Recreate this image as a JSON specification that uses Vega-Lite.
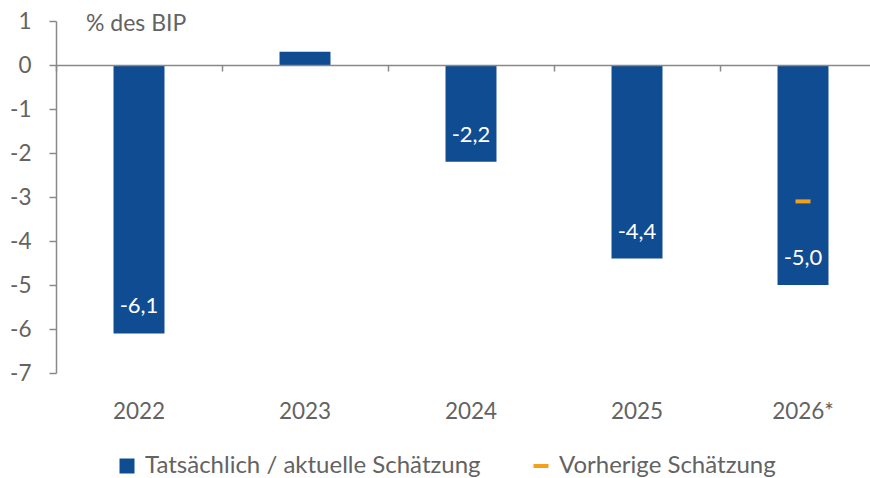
{
  "$schema": "https://vega.github.io/schema/vega-lite/v6.json",
  "width": 814,
  "height": 352,
  "autosize": {"type": "none"},
  "padding": {"left": 56, "top": 21, "right": 0, "bottom": 105},
  "background": "white",
  "config": {"view": {"stroke": null}, "font": "Lato"},
  "title": {"text": "% des BIP", "anchor": "start", "frame": "group", "dx": 30, "offset": -44, "fontSize": 23, "fontWeight": "normal", "color": "#636363", "baseline": "alphabetic"},
  "datasets": {
    "actual": [
      {"year": "2022", "value": -6.1, "label": "-6,1", "series": "Tatsächlich / aktuelle Schätzung"},
      {"year": "2023", "value": 0.3, "label": "", "series": "Tatsächlich / aktuelle Schätzung"},
      {"year": "2024", "value": -2.2, "label": "-2,2", "series": "Tatsächlich / aktuelle Schätzung"},
      {"year": "2025", "value": -4.4, "label": "-4,4", "series": "Tatsächlich / aktuelle Schätzung"},
      {"year": "2026*", "value": -5.0, "label": "-5,0", "series": "Tatsächlich / aktuelle Schätzung"}
    ],
    "previous": [
      {"year": "2026*", "value": -3.1, "series": "Vorherige Schätzung"}
    ]
  },
  "layer": [
    {
      "data": {"name": "actual"},
      "mark": {"type": "bar", "width": {"band": 0.307}},
      "encoding": {
        "x": {"field": "year", "type": "nominal", "sort": null,
          "scale": {"range": [0, 830], "paddingInner": 0, "paddingOuter": 0},
          "axis": {"orient": "bottom", "domain": false, "ticks": false, "labelPadding": 27, "labelFontSize": 22.5, "labelColor": "#636363", "labelAngle": 0, "title": null}},
        "y": {"field": "value", "type": "quantitative",
          "scale": {"domain": [-7, 1], "nice": false, "zero": false},
          "axis": {"values": [-7, -6, -5, -4, -3, -2, -1, 0, 1], "grid": false, "domainColor": "#898989", "tickColor": "#898989", "tickSize": 7, "labelPadding": 18, "labelFontSize": 22.5, "labelColor": "#636363", "title": null, "domainWidth": 1.5, "tickWidth": 1.5, "labelExpr": "'' + datum.value"}},
        "color": {"field": "series", "type": "nominal",
          "scale": {"domain": ["Tatsächlich / aktuelle Schätzung", "Vorherige Schätzung"], "range": ["#104C91", "#F5A01A"]},
          "legend": {"orient": "none", "legendX": 59, "legendY": 433, "direction": "horizontal", "title": null, "labelFontSize": 24, "labelColor": "#636363", "labelLimit": 0, "symbolSize": 225, "symbolType": "square", "symbolStrokeWidth": 0, "symbolOpacity": 1, "columnPadding": 48, "labelOffset": 6,
            "encode": {"symbols": {"update": {"shape": {"signal": "datum.value === 'Vorherige Schätzung' ? 'M-1,-0.27H1V0.27H-1Z' : 'square'"}}}}}}
      }
    },
    {
      "data": {"name": "actual"},
      "transform": [{"filter": "datum.label != ''"}],
      "mark": {"type": "text", "color": "white", "fontSize": 22, "baseline": "middle", "dy": -27},
      "encoding": {
        "x": {"field": "year", "type": "nominal", "sort": null, "axis": null},
        "y": {"field": "value", "type": "quantitative", "axis": null},
        "text": {"field": "label"}
      }
    },
    {
      "data": {"name": "previous"},
      "mark": {"type": "tick", "orient": "horizontal", "size": 15, "thickness": 4, "opacity": 1},
      "encoding": {
        "x": {"field": "year", "type": "nominal", "sort": null,
          "axis": {"orient": "bottom", "offset": -308, "labels": false, "domain": true, "ticks": true, "tickBand": "extent", "tickSize": 6, "domainColor": "#898989", "tickColor": "#898989", "domainWidth": 1.5, "tickWidth": 1.5, "title": null, "zindex": 1}},
        "y": {"field": "value", "type": "quantitative", "axis": null},
        "color": {"field": "series", "type": "nominal", "legend": null}
      }
    }
  ],
  "resolve": {"axis": {"x": "independent", "y": "independent"}}
}
